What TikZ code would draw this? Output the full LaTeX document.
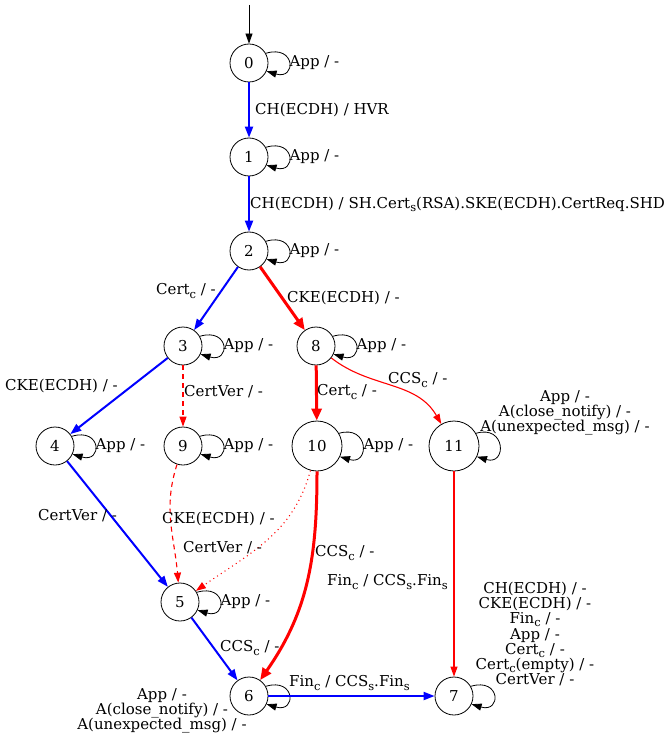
\documentclass[tikz,border=0pt]{standalone}
\usepackage{fontspec}
\setmainfont{DejaVu Serif}
\usetikzlibrary{arrows.meta}
\newcommand\lo[1]{\raisebox{-0.4ex}{\fontsize{11.5}{11.5}\selectfont #1}}
\begin{document}
\begin{tikzpicture}[x=1pt,y=1pt,
  st/.style={circle,draw,line width=0.8pt,minimum size=38pt,inner sep=0pt,font=\fontsize{15}{16}\selectfont},
  bigst/.style={st,minimum size=50pt},
  lbl/.style={inner sep=0pt,font=\fontsize{15}{15.2}\selectfont,align=center},
  blk/.style={-{Triangle[length=10pt,width=7pt]},black,line width=0.8pt},
  bl/.style={-{Triangle[length=11pt,width=8pt]},blue,line width=2pt},
  rthick/.style={-{Triangle[length=12pt,width=10pt]},red,line width=3pt},
  rthin/.style={-{Triangle[length=10pt,width=7pt]},red,line width=1.1pt},
  selfloop/.style={blk},
]
\useasboundingbox (0,0) rectangle (668,-743);
\fill[white] (0,0) rectangle (668,-743);
% states
\node[st] (n0) at (249,-63) {0};
\node[st] (n1) at (249,-157) {1};
\node[st] (n2) at (249,-251) {2};
\node[st] (n3) at (183,-346) {3};
\node[st] (n8) at (316,-346) {8};
\node[st] (n4) at (55,-446) {4};
\node[st] (n9) at (183,-446) {9};
\node[bigst] (n10) at (317,-446) {10};
\node[bigst] (n11) at (454,-446) {11};
\node[st] (n5) at (180,-602) {5};
\node[st] (n6) at (249,-696) {6};
\node[st] (n7) at (454,-696) {7};
\coordinate (start) at (249,-5);
% initial
\draw[blk] (start) -- (n0);
% self loops
\foreach \n in {n0,n1,n2,n3,n8,n4,n9,n5,n6,n7,n10,n11}{
  \draw[selfloop] (\n.30) .. controls +(30,9) and +(30,-9) .. (\n.-25);
}
% loop labels
\foreach \n in {n0,n1,n2,n3,n8,n4,n9,n5}{
  \node[lbl,anchor=west] (l\n) at ([xshift=21pt]\n.east) {App / -};
}
\node[lbl,anchor=west] (ln10) at ([xshift=21pt]n10.east) {App / -};
\node[lbl] (ln11) at (565,-413) {App / -\\A(close\_notify) / -\\A(unexpected\_msg) / -};
\node[lbl] (ln6) at (162,-711) {App / -\\A(close\_notify) / -\\A(unexpected\_msg) / -};
\node[lbl] (ln7) at (535,-634) {CH(ECDH) / -\\CKE(ECDH) / -\\Fin\lo{c} / -\\App / -\\Cert\lo{c} / -\\Cert\lo{c}(empty) / -\\CertVer / -};
% transitions
\draw[bl] (n0) -- (n1);
\node[lbl,anchor=west] (e01) at (255,-110) {CH(ECDH) / HVR};
\draw[bl] (n1) -- (n2);
\node[lbl,anchor=west] (e12) at (250,-204) {CH(ECDH) / SH.Cert\lo{s}(RSA).SKE(ECDH).CertReq.SHD};
\draw[bl] (n2) -- (n3);
\node[lbl,anchor=east] (e23) at (216,-291) {Cert\lo{c} / -};
\draw[rthick] (n2) -- (n8);
\node[lbl,anchor=west] (e28) at (287,-298) {CKE(ECDH) / -};
\draw[bl] (n3) -- (n4);
\node[lbl,anchor=west] (e34) at (5,-386) {CKE(ECDH) / -};
\draw[rthin,dash pattern=on 5pt off 4pt] (n3) -- (n9);
\node[lbl,anchor=west] (e39) at (184,-392) {CertVer / -};
\draw[rthick] (n8) -- (n10);
\node[lbl,anchor=west] (e810) at (317,-392) {Cert\lo{c} / -};
\draw[rthin] (n8) to[out=-38,in=120] (n11);
\node[lbl,anchor=west] (e811) at (388,-380) {CCS\lo{c} / -};
\draw[bl] (n4) -- (n5);
\node[lbl,anchor=west] (e45) at (38,-516) {CertVer / -};
\draw[rthin,dash pattern=on 5pt off 4pt] (n9) to[out=-108,in=95] (n5);
\node[lbl,anchor=west] (e95) at (162,-519) {CKE(ECDH) / -};
\draw[rthin,dash pattern=on 1pt off 3.5pt] (n10) to[out=-105,in=35] (n5);
\node[lbl,anchor=west] (e105) at (183,-548) {CertVer / -};
\draw[rthick] (n10) to[out=-90,in=55] (n6);
\node[lbl,anchor=west] (e106) at (315,-553) {CCS\lo{c} / -};
\node[lbl,anchor=west] (e106b) at (327,-582) {Fin\lo{c} / CCS\lo{s}.Fin\lo{s}};
\draw[rthin] (n11) -- (n7);
\draw[bl] (n5) -- (n6);
\node[lbl,anchor=west] (e56) at (220,-648) {CCS\lo{c} / -};
\draw[bl] (n6) -- (n7);
\node[lbl,anchor=west] (e67) at (289,-683) {Fin\lo{c} / CCS\lo{s}.Fin\lo{s}};
\end{tikzpicture}
\end{document}
